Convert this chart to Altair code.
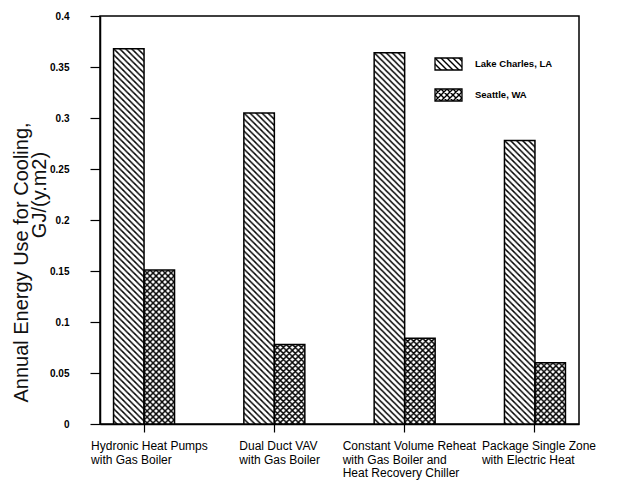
import altair as alt
import pandas as pd
from urllib.parse import quote

# ---- data ----
categories = [
    "Hydronic Heat Pumps\nwith Gas Boiler",
    "Dual Duct VAV\nwith Gas Boiler",
    "Constant Volume Reheat\nwith Gas Boiler and\nHeat Recovery Chiller",
    "Package Single Zone\nwith Electric Heat",
]
series = ["Lake Charles, LA", "Seattle, WA"]
lake_charles = [0.368, 0.305, 0.364, 0.278]
seattle = [0.151, 0.078, 0.084, 0.060]
y_ticks = [0, 0.05, 0.1, 0.15, 0.2, 0.25, 0.3, 0.35, 0.4]
y_title = ["Annual Energy Use for Cooling,", "GJ/(y.m2)"]

rows = []
for i, c in enumerate(categories):
    rows.append({"category": c, "series": series[0], "value": lake_charles[i]})
    rows.append({"category": c, "series": series[1], "value": seattle[i]})
df = pd.DataFrame(rows)


def pattern_uri(cross):
    d = "M-1,-1L7,7M-1,5L1,7M5,-1L7,1"
    if cross:
        d += "M-1,7L7,-1M-1,1L1,-1M5,7L7,5"
    svg = (
        '<svg xmlns="http://www.w3.org/2000/svg" width="100%" height="100%">'
        '<defs><pattern id="h" width="6" height="6" patternUnits="userSpaceOnUse">'
        f'<path d="{d}" stroke="black" stroke-width="1.4" fill="none"/></pattern></defs>'
        '<rect width="100%" height="100%" fill="white"/>'
        '<rect width="100%" height="100%" fill="url(#h)"/></svg>'
    )
    return "data:image/svg+xml;charset=utf-8," + quote(svg)


patterns = [pattern_uri(False), pattern_uri(True)]

SANS = "Liberation Sans, Arial, sans-serif"

x_enc = alt.X(
    "category:N",
    sort=categories,
    scale=alt.Scale(domain=categories, paddingInner=0.532, paddingOuter=0.104),
    axis=alt.Axis(title=None, labels=False, tickSize=8, tickWidth=1.2,
                  tickColor="black", domainColor="black", domainWidth=1.5),
)
xoff_enc = alt.XOffset("series:N", sort=series,
                       scale=alt.Scale(domain=series, paddingInner=0, paddingOuter=0))
y_enc = alt.Y(
    "value:Q",
    scale=alt.Scale(domain=[0, 0.4], nice=False, zero=True),
    axis=alt.Axis(
        values=y_ticks, format="~g", grid=False,
        tickSize=10, tickWidth=1.2, tickColor="black",
        domainColor="black", domainWidth=1.5,
        labelFont=SANS, labelFontSize=10, labelFontWeight="bold",
        labelColor="black", labelPadding=21,
        title=y_title[0], titleFont=SANS, titleFontSize=20,
        titleFontWeight="normal", titleColor="#111111", titleAngle=270,
        titleAlign="center", titleBaseline="middle", titleX=-79, titleY=246,
    ),
)

base = alt.Chart(df)

hatch_layers = []
for s, uri in zip(series, patterns):
    hatch_layers.append(
        base.transform_filter(alt.datum.series == s)
        .mark_image(aspect=False)
        .encode(x=x_enc, xOffset=xoff_enc, y=y_enc, y2=alt.datum(0), url=alt.value(uri))
    )

outlines = base.mark_bar(fillOpacity=0, stroke="black", strokeWidth=1.5).encode(
    x=x_enc, xOffset=xoff_enc, y=y_enc
)

label_layers = []
for c in categories:
    first_len = len(c.split("\n")[0])
    label_layers.append(
        alt.Chart(pd.DataFrame({"category": [c]}))
        .mark_text(align="left", baseline="top", dx=-3.0 * first_len + 4, lineBreak="\n",
                   lineHeight=13.5, fontSize=12, font=SANS, color="black")
        .encode(x=x_enc, y=alt.value(425), text="category:N")
    )

title2 = (
    alt.Chart(pd.DataFrame({"t": [y_title[1]]}))
    .mark_text(angle=270, fontSize=20, font=SANS, color="#111111",
               align="center", baseline="middle")
    .encode(x=alt.value(-60), y=alt.value(179), text="t:N")
)

legend_layers = []
for i, (s, uri) in enumerate(zip(series, patterns)):
    ldf = pd.DataFrame({"series": [s]})
    y0 = 42 + 31 * i
    legend_layers.append(
        alt.Chart(ldf).mark_image(aspect=False).encode(
            x=alt.value(335), x2=alt.value(362), y=alt.value(y0), y2=alt.value(y0 + 12),
            url=alt.value(uri))
    )
    legend_layers.append(
        alt.Chart(ldf).mark_rect(fillOpacity=0, stroke="black", strokeWidth=1.3).encode(
            x=alt.value(335), x2=alt.value(362), y=alt.value(y0), y2=alt.value(y0 + 12))
    )
    legend_layers.append(
        alt.Chart(ldf).mark_text(align="left", baseline="middle", fontSize=9.5,
                                 fontWeight="bold", font=SANS, color="black").encode(
            x=alt.value(375), y=alt.value(y0 + 6), text="series:N")
    )

chart = (
    alt.layer(*hatch_layers, outlines, *label_layers, title2, *legend_layers)
    .properties(
        width=479, height=408,
        padding={"left": 92, "top": 8, "right": 35, "bottom": 60},
        autosize=alt.AutoSizeParams(type="none"),
        background="white",
    )
    .configure_view(stroke="black", strokeWidth=1.5)
)

chart.save("out.html", embed_options={"renderer": "svg", "actions": False})
